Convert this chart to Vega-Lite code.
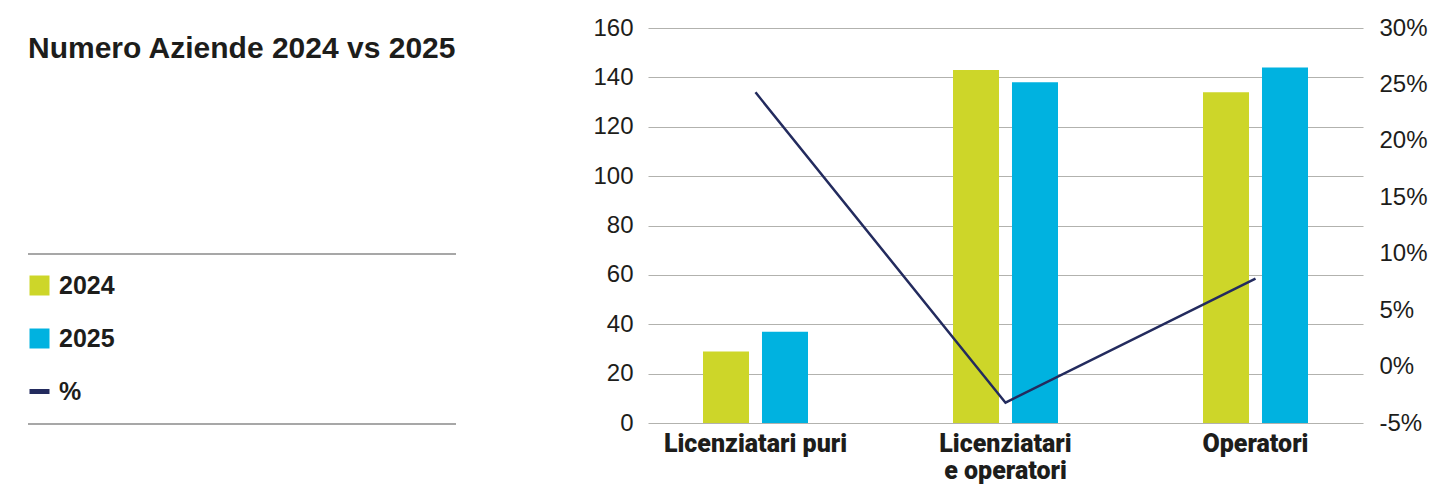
{
  "$schema": "https://vega.github.io/schema/vega-lite/v6.json",
  "width": 715,
  "height": 395,
  "autosize": {"type": "none"},
  "padding": {"left": 648, "top": 28, "right": 76, "bottom": 62},
  "background": "white",
  "title": {
    "text": "Numero Aziende 2024 vs 2025",
    "anchor": "start",
    "frame": "group",
    "orient": "top",
    "offset": 0,
    "baseline": "alphabetic",
    "dx": -620,
    "dy": 72,
    "font": "Liberation Sans",
    "fontSize": 30,
    "fontWeight": "bold",
    "color": "#1d1d1b"
  },
  "datasets": {
    "aziende": [
      {"categoria": "Licenziatari puri", "anno": "2024", "numero": 29},
      {"categoria": "Licenziatari puri", "anno": "2025", "numero": 37},
      {"categoria": "Licenziatari e operatori", "anno": "2024", "numero": 143},
      {"categoria": "Licenziatari e operatori", "anno": "2025", "numero": 138},
      {"categoria": "Operatori", "anno": "2024", "numero": 134},
      {"categoria": "Operatori", "anno": "2025", "numero": 144}
    ],
    "variazione": [
      {"categoria": "Licenziatari puri", "serie": "%", "pct": 0.243},
      {"categoria": "Licenziatari e operatori", "serie": "%", "pct": -0.032},
      {"categoria": "Operatori", "serie": "%", "pct": 0.078}
    ]
  },
  "layer": [
    {
      "data": {"name": "aziende"},
      "mark": {"type": "bar"},
      "encoding": {
        "x": {
          "field": "categoria",
          "type": "nominal",
          "sort": ["Licenziatari puri", "Licenziatari e operatori", "Operatori"],
          "scale": {"paddingInner": 0.58, "paddingOuter": 0.22},
          "axis": {
            "title": null,
            "labelAngle": 0,
            "domain": false,
            "ticks": false,
            "tickSize": 0,
            "labelPadding": 28,
            "labelBaseline": "alphabetic",
            "labelFont": "Roboto",
            "labelFontWeight": 900,
            "labelFontSize": 25,
            "labelColor": "#1d1d1b",
            "labelLineHeight": 27,
            "labelLimit": 400,
            "labelExpr": "datum.value == 'Licenziatari e operatori' ? ['Licenziatari', 'e operatori'] : datum.value"
          }
        },
        "xOffset": {
          "field": "anno",
          "type": "nominal",
          "scale": {"paddingInner": 0.22, "paddingOuter": 0}
        },
        "y": {
          "field": "numero",
          "type": "quantitative",
          "scale": {"domain": [0, 160], "nice": false},
          "axis": {
            "title": null,
            "orient": "left",
            "values": [0, 20, 40, 60, 80, 100, 120, 140, 160],
            "domain": false,
            "ticks": false,
            "tickSize": 0,
            "labelPadding": 15,
            "labelFont": "Liberation Sans",
            "labelFontSize": 24,
            "labelColor": "#1d1d1b",
            "grid": true,
            "gridColor": "#b2b2ae",
            "gridWidth": 1.2
          }
        },
        "color": {
          "field": "anno",
          "type": "nominal",
          "scale": {"domain": ["2024", "2025", "%"], "range": ["#cdd629", "#00b2e0", "#232b5e"]},
          "legend": {
            "title": null,
            "orient": "none",
            "legendX": -640,
            "legendY": 226,
            "padding": 19,
            "symbolType": "square",
            "symbolSize": 400,
            "symbolStrokeWidth": 0,
            "labelFont": "Liberation Sans",
            "labelFontWeight": "bold",
            "labelFontSize": 25,
            "labelColor": "#1d1d1b",
            "labelOffset": 7,
            "rowPadding": 27,
            "encode": {
              "legend": {
                "update": {
                  "stroke": {"value": "#8a8a8a"},
                  "strokeWidth": {"value": 1.5},
                  "strokeDash": {"value": [0, 20, 428, 170, 428, 190]}
                }
              },
              "entries": {
                "update": {"noBound": {"value": false}, "width": {"value": 410}}
              },
              "symbols": {
                "update": {
                  "shape": {"signal": "datum.value === '%' ? 'stroke' : 'square'"},
                  "stroke": {"signal": "datum.value === '%' ? '#232b5e' : 'transparent'"},
                  "strokeWidth": {"signal": "datum.value === '%' ? 5 : 0"}
                }
              }
            }
          }
        }
      }
    },
    {
      "data": {"name": "variazione"},
      "mark": {"type": "line", "strokeWidth": 2.5},
      "encoding": {
        "x": {
          "field": "categoria",
          "type": "nominal",
          "sort": ["Licenziatari puri", "Licenziatari e operatori", "Operatori"]
        },
        "y": {
          "field": "pct",
          "type": "quantitative",
          "scale": {"domain": [-0.05, 0.30], "nice": false},
          "axis": {
            "title": null,
            "orient": "right",
            "values": [-0.05, 0, 0.05, 0.1, 0.15, 0.2, 0.25, 0.3],
            "format": ".0%",
            "labelExpr": "replace(datum.label, '\u2212', '-')",
            "domain": false,
            "ticks": false,
            "tickSize": 0,
            "labelPadding": 16,
            "labelFont": "Liberation Sans",
            "labelFontSize": 24,
            "labelColor": "#1d1d1b",
            "grid": false
          }
        },
        "color": {"datum": "%"}
      }
    }
  ],
  "resolve": {"scale": {"y": "independent"}},
  "config": {
    "view": {"stroke": null}
  }
}
